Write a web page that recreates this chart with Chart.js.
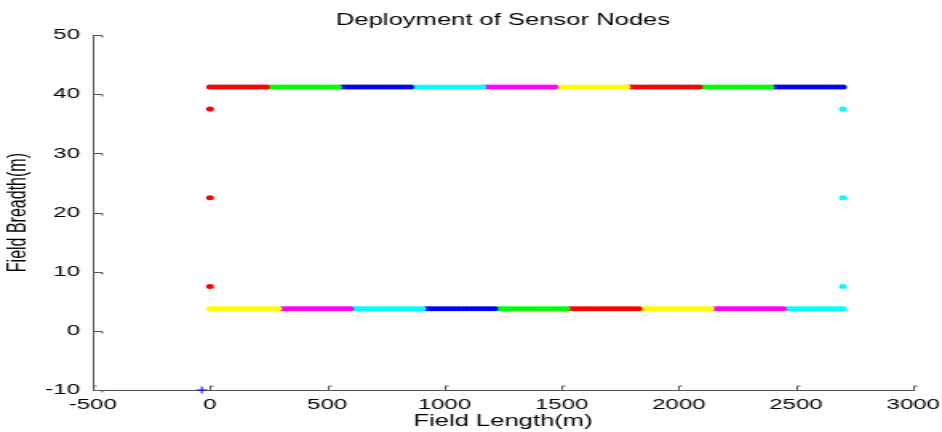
<!DOCTYPE html>
<html><head><meta charset="utf-8">
<script src="https://cdn.jsdelivr.net/npm/chart.js@4.4.0/dist/chart.umd.min.js"></script>
<style>html,body{margin:0;padding:0;background:#fff;overflow:hidden}
#c{display:block;width:942px !important;height:432px !important}</style></head>
<body><canvas id="c" width="589" height="432" style="width:942px;height:432px"></canvas>
<script>
const titleText = 'Deployment of Sensor Nodes';
const xAxisLabel = 'Field Length(m)';
const yAxisLabel = 'Field Breadth(m)';
const xTickValues = [-500, 0, 500, 1000, 1500, 2000, 2500, 3000];
const yTickValues = [-10, 0, 10, 20, 30, 40, 50];

// x positions (m) of nodes along the top and bottom rows
const rowX = [0,17,34,51,68,85,103,120,137,154,171,188,205,222,239,256,273,291,308,325,342,359,376,393,410,427,444,461,478,496,513,530,547,564,581,598,615,632,649,666,684,701,718,735,752,769,786,803,820,837,854,872,889,906,923,940,957,974,991,1008,1025,1042,1059,1077,1094,1111,1128,1145,1162,1179,1196,1213,1230,1247,1265,1282,1299,1316,1333,1350,1367,1384,1401,1418,1435,1453,1470,1487,1504,1521,1538,1555,1572,1589,1606,1623,1641,1658,1675,1692,1709,1726,1743,1760,1777,1794,1811,1828,1846,1863,1880,1897,1914,1931,1948,1965,1982,1999,2016,2034,2051,2068,2085,2102,2119,2136,2153,2170,2187,2204,2222,2239,2256,2273,2290,2307,2324,2341,2358,2375,2392,2409,2427,2444,2461,2478,2495,2512,2529,2546,2563,2580,2597,2615,2632,2649,2666,2683,2700];
const topRowY = 41.25;
const bottomRowY = 3.75;
const sideColumnY = [37.5, 22.5, 7.5];
const leftColumnX = 0;
const rightColumnX = 2700;

const topSegmentSizes = [15, 18, 18, 18, 18, 18, 18, 18, 18];
const topSegmentColors = ['#ff0000','#00ff00','#0000ff','#00ffff','#ff00ff','#ffff00','#ff0000','#00ff00','#0000ff'];
const bottomSegmentSizes = [18, 18, 18, 18, 18, 18, 18, 18, 15];
const bottomSegmentColors = ['#ffff00','#ff00ff','#00ffff','#0000ff','#00ff00','#ff0000','#ffff00','#ff00ff','#00ffff'];
const leftColumnColor = '#ff0000';
const rightColumnColor = '#00ffff';
const sinkNode = {x: -35, y: -10};
const sinkColor = '#0000ff';

const FONT = "'Liberation Sans', Arial, Helvetica, sans-serif";
const AXIS_COLOR = '#555555';

function dotSet(points, color) {
  return {type: 'scatter', data: points, backgroundColor: color, borderColor: color,
    borderWidth: 0, pointRadius: 2.5, pointHoverRadius: 2.5, clip: false};
}
const datasets = [];
function addRow(sizes, colors, y) {
  let start = 0;
  sizes.forEach((n, k) => {
    const pts = rowX.slice(start, start + n).map(x => ({x, y}));
    datasets.push(dotSet(pts, colors[k]));
    start += n;
  });
}
addRow(topSegmentSizes, topSegmentColors, topRowY);
addRow(bottomSegmentSizes, bottomSegmentColors, bottomRowY);
datasets.push(dotSet(sideColumnY.map(y => ({x: leftColumnX, y})), leftColumnColor));
datasets.push(dotSet(sideColumnY.map(y => ({x: rightColumnX, y})), rightColumnColor));
datasets.push({type: 'scatter', data: [sinkNode], pointStyle: 'cross', pointRadius: 3.5,
  borderColor: sinkColor, backgroundColor: sinkColor, borderWidth: 1, clip: false});

const inwardTicks = {
  id: 'inwardTicks',
  beforeDatasetsDraw(chart) {
    const ctx = chart.ctx, a = chart.chartArea, xs = chart.scales.x, ys = chart.scales.y;
    ctx.save();
    ctx.strokeStyle = AXIS_COLOR; ctx.lineWidth = 1;
    ctx.beginPath();
    xs.ticks.forEach(t => {
      const p = Math.round(xs.getPixelForValue(t.value)) + 0.5;
      ctx.moveTo(p, a.bottom); ctx.lineTo(p, a.bottom - 4); ctx.lineTo(p + 2, a.bottom - 4);
    });
    ys.ticks.forEach(t => {
      const p = Math.round(ys.getPixelForValue(t.value)) + 0.5;
      ctx.moveTo(a.left, p); ctx.lineTo(a.left + 6, p); ctx.lineTo(a.left + 6, p + 2);
    });
    ctx.stroke();
    ctx.restore();
  }
};

new Chart(document.getElementById('c'), {
  type: 'scatter',
  data: {datasets},
  options: {
    responsive: false, animation: false, devicePixelRatio: 1,
    layout: {padding: {left: 0, right: 18, top: 0, bottom: 0}},
    plugins: {
      legend: {display: false}, tooltip: {enabled: false},
      title: {display: true, text: titleText, fullSize: false, color: '#000',
        font: {family: FONT, size: 16, weight: 'normal'}, padding: {top: 11, bottom: 5}}
    },
    scales: {
      x: {type: 'linear', min: -500, max: 3000,
        afterBuildTicks: s => { s.ticks = xTickValues.map(v => ({value: v})); },
        afterFit: s => { s.height = 42; s.paddingLeft = 0; s.paddingRight = 0; },
        grid: {drawOnChartArea: false, drawTicks: false},
        border: {color: AXIS_COLOR, width: 1},
        ticks: {color: '#000', padding: 6, maxRotation: 0, font: {family: FONT, size: 15},
          callback: v => String(v)},
        title: {display: true, text: xAxisLabel, color: '#000', padding: {top: 0, bottom: 1},
          font: {family: FONT, size: 16}}
      },
      y: {type: 'linear', min: -10, max: 50,
        afterBuildTicks: s => { s.ticks = yTickValues.map(v => ({value: v})); },
        afterFit: s => { s.width = 58; s.paddingTop = 0; s.paddingBottom = 0; },
        grid: {drawOnChartArea: false, drawTicks: false},
        border: {color: AXIS_COLOR, width: 1},
        ticks: {color: '#000', padding: 8, font: {family: FONT, size: 15},
          callback: v => String(v)},
        title: {display: true, text: yAxisLabel, color: '#000', padding: {top: 2, bottom: 0},
          font: {family: FONT, size: 16}}
      }
    }
  },
  plugins: [inwardTicks]
});
</script></body></html>
